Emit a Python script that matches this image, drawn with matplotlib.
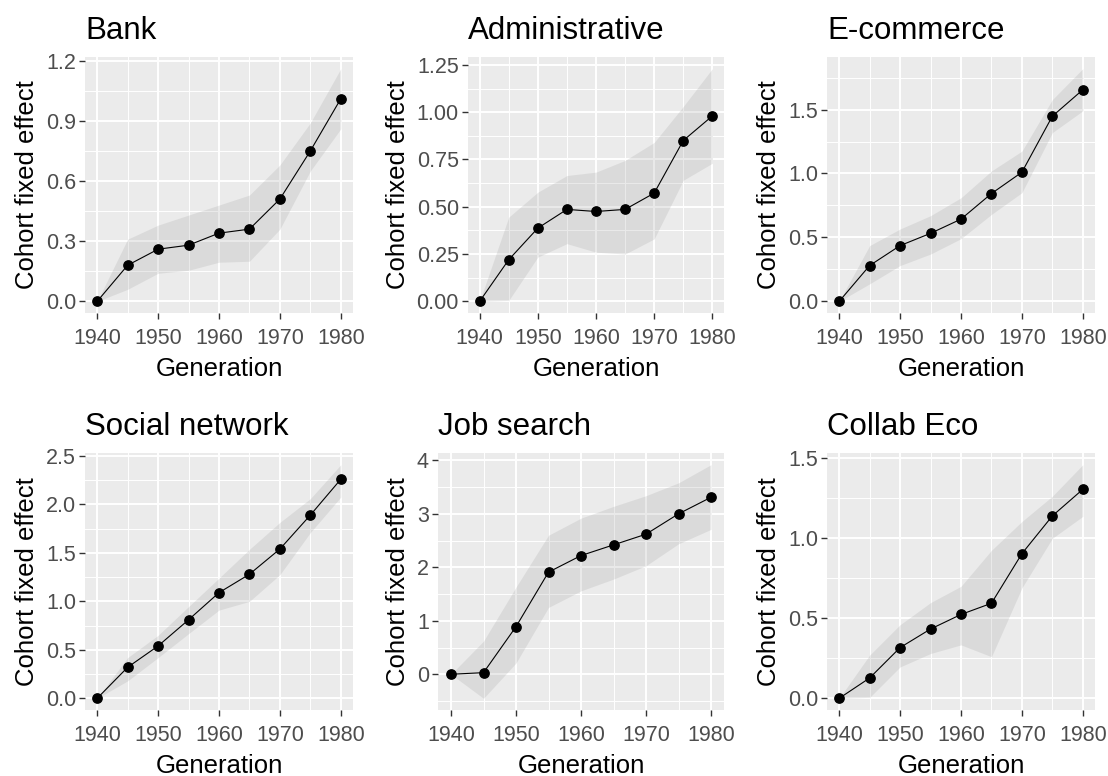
import matplotlib.pyplot as plt
import numpy as np
from matplotlib.ticker import MultipleLocator, FormatStrFormatter

plt.rcParams['font.family'] = ['Liberation Sans', 'DejaVu Sans']

# generations on the x axis
years = [1940, 1945, 1950, 1955, 1960, 1965, 1970, 1975, 1980]

# cohort fixed effects + confidence band
bank = [0, 0.18, 0.26, 0.28, 0.34, 0.36, 0.51, 0.75, 1.01]
bank_lo = [0, 0.06, 0.14, 0.155, 0.195, 0.20, 0.36, 0.65, 0.86]
bank_hi = [0, 0.31, 0.38, 0.43, 0.48, 0.53, 0.68, 0.89, 1.16]

admin = [0, 0.22, 0.387, 0.486, 0.475, 0.486, 0.572, 0.85, 0.98]
admin_lo = [0, 0.005, 0.234, 0.305, 0.26, 0.25, 0.33, 0.64, 0.73]
admin_hi = [0, 0.445, 0.577, 0.665, 0.683, 0.745, 0.84, 1.03, 1.23]

ecom = [0, 0.28, 0.436, 0.532, 0.643, 0.843, 1.01, 1.448, 1.655]
ecom_lo = [0, 0.137, 0.28, 0.37, 0.49, 0.68, 0.85, 1.32, 1.49]
ecom_hi = [0, 0.436, 0.566, 0.67, 0.81, 1.02, 1.175, 1.578, 1.82]

social = [0, 0.32, 0.54, 0.81, 1.09, 1.28, 1.54, 1.89, 2.26]
social_lo = [0, 0.18, 0.42, 0.667, 0.91, 1.0, 1.276, 1.71, 2.076]
social_hi = [0, 0.42, 0.65, 0.946, 1.24, 1.537, 1.815, 2.06, 2.41]

job = [0, 0.03, 0.89, 1.91, 2.22, 2.42, 2.62, 3.0, 3.31]
job_lo = [0, -0.45, 0.21, 1.25, 1.56, 1.78, 2.03, 2.44, 2.71]
job_hi = [0, 0.62, 1.63, 2.6, 2.92, 3.14, 3.34, 3.58, 3.92]

collab = [0, 0.127, 0.317, 0.433, 0.524, 0.594, 0.904, 1.14, 1.306]
collab_lo = [0, 0.006, 0.196, 0.28, 0.334, 0.26, 0.69, 1.0, 1.137]
collab_hi = [0, 0.27, 0.46, 0.598, 0.70, 0.925, 1.105, 1.263, 1.46]

titles = ['Bank', 'Administrative', 'E-commerce', 'Social network', 'Job search', 'Collab Eco']
series = [bank, admin, ecom, social, job, collab]
lows = [bank_lo, admin_lo, ecom_lo, social_lo, job_lo, collab_lo]
highs = [bank_hi, admin_hi, ecom_hi, social_hi, job_hi, collab_hi]
ysteps = [0.3, 0.25, 0.5, 0.5, 1, 0.5]
yfmts = ['%.1f', '%.2f', '%.1f', '%.1f', '%d', '%.1f']

W, H = 1108, 776
fig = plt.figure(figsize=(W / 100, H / 100), dpi=100)

# panel boxes in pixels: left, right, top, bottom
boxes = [(85, 353, 57, 313), (468, 724, 57, 313), (827, 1095, 57, 313),
         (85, 353, 453, 710), (438, 724, 453, 710), (827, 1095, 453, 710)]

for i in range(6):
    l, r, t, b = boxes[i]
    ax = fig.add_axes([l / W, (H - b) / H, (r - l) / W, (b - t) / H])
    ax.set_facecolor('#EBEBEB')
    for s in ax.spines.values():
        s.set_visible(False)

    y = np.array(series[i])
    lo = np.array(lows[i])
    hi = np.array(highs[i])

    ax.fill_between(years, lo, hi, color='#999999', alpha=0.2, linewidth=0, zorder=2)
    ax.plot(years, y, color='black', lw=0.8, zorder=3)
    ax.scatter(years, y, s=45, color='black', zorder=4)

    # ggplot style 5% expansion
    ymin = min(lo.min(), y.min())
    ymax = max(hi.max(), y.max())
    pad = (ymax - ymin) * 0.05
    ax.set_ylim(ymin - pad, ymax + pad)
    ax.set_xlim(1938, 1982)

    ax.xaxis.set_major_locator(MultipleLocator(10))
    ax.xaxis.set_minor_locator(MultipleLocator(5))
    ax.yaxis.set_major_locator(MultipleLocator(ysteps[i]))
    ax.yaxis.set_minor_locator(MultipleLocator(ysteps[i] / 2))
    ax.yaxis.set_major_formatter(FormatStrFormatter(yfmts[i]))

    ax.grid(which='major', color='white', lw=1.4, zorder=0)
    ax.grid(which='minor', color='white', lw=0.7, zorder=0)
    ax.set_axisbelow(True)

    ax.tick_params(which='major', length=4.5, width=1, color='#333333',
                   labelsize=15.5, labelcolor='#4D4D4D', pad=2)
    ax.tick_params(axis='x', which='major', pad=6)
    ax.tick_params(which='minor', length=0)

    ax.set_xlabel('Generation', fontsize=18.5, labelpad=6)
    ax.set_ylabel('Cohort fixed effect', fontsize=18.5, labelpad=5)
    ax.set_title(titles[i], loc='left', fontsize=22.5, pad=13)

plt.savefig('out.png', dpi=100)
